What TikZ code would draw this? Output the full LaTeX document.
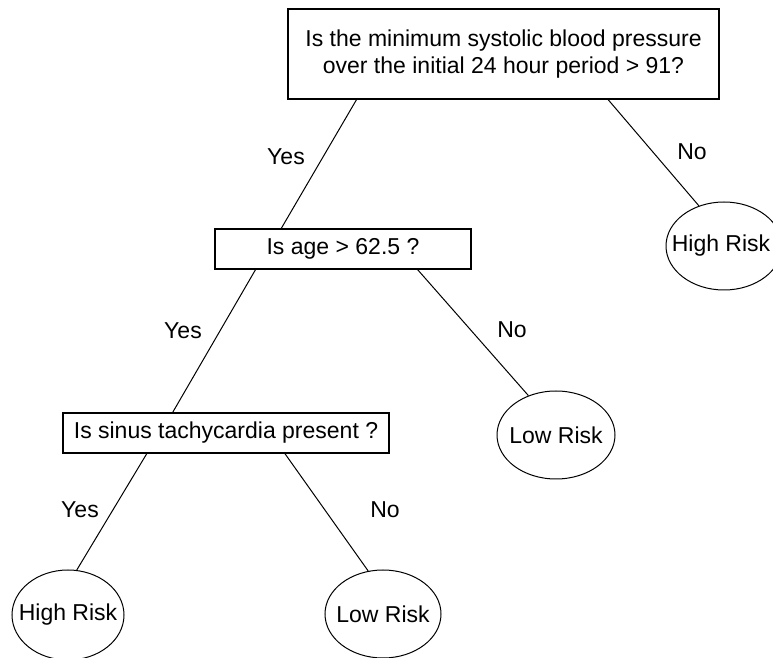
\documentclass[tikz,border=0pt]{standalone}
\usepackage{fontspec}
\setmainfont{Liberation Sans}
\usetikzlibrary{shapes.geometric,calc}
\tikzset{
  qbox/.style={draw,line width=0.6pt,rectangle,inner sep=0pt,align=center,font=\fontsize{11.5}{13.5}\selectfont},
  leaf/.style={draw,line width=0.5pt,ellipse,inner sep=0pt,font=\fontsize{11.5}{13.5}\selectfont},
  lab/.style={inner sep=0pt,font=\fontsize{11.5}{13.5}\selectfont},
  edge/.style={line width=0.5pt}
}
\begin{document}
\begin{tikzpicture}[x=0.5pt,y=-0.5pt]
\useasboundingbox (0,0) rectangle (773,658);
\clip (0,0) rectangle (773,658);
\node[qbox,minimum width=215.5pt,minimum height=45pt] (top) at (503.5,54)
  {Is the minimum systolic blood pressure\\over the initial 24 hour period > 91?};
\node[qbox,minimum width=128pt,minimum height=20pt] (age) at (343,249) {Is age > 62.5 ?};
\node[qbox,minimum width=163pt,minimum height=20pt] (sinus) at (226,433) {Is sinus tachycardia present ?};
\node[leaf,minimum width=58pt,minimum height=44pt] (hr1) at (724,246) {\makebox[0pt]{\hspace*{-3pt}High Risk}};
\node[leaf,minimum width=59pt,minimum height=44pt] (lr1) at (556,435) {\makebox[0pt]{Low Risk}};
\node[leaf,minimum width=56pt,minimum height=45pt] (hr2) at (68,615) {\makebox[0pt]{High Risk}};
\node[leaf,minimum width=58pt,minimum height=44pt] (lr2) at (383,614) {\makebox[0pt]{Low Risk}};
\draw[edge] ($(top.south west)!0.16!(top.south east)$) -- ($(age.north west)!0.26!(age.north east)$);
\draw[edge] ($(top.south west)!0.742!(top.south east)$) -- (hr1.122);
\draw[edge] ($(age.south west)!0.16!(age.south east)$) -- ($(sinus.north west)!0.337!(sinus.north east)$);
\draw[edge] ($(age.south west)!0.79!(age.south east)$) -- (lr1.125);
\draw[edge] ($(sinus.south west)!0.258!(sinus.south east)$) -- (hr2.79);
\draw[edge] ($(sinus.south west)!0.68!(sinus.south east)$) -- (lr2.109);
\node[lab] (y1) at (286,157) {Yes};
\node[lab] (n1) at (692,152) {No};
\node[lab] (y2) at (183,331) {Yes};
\node[lab] (n2) at (512,330) {No};
\node[lab] (y3) at (80,510) {Yes};
\node[lab] (n3) at (385,510) {No};
\end{tikzpicture}
\end{document}
